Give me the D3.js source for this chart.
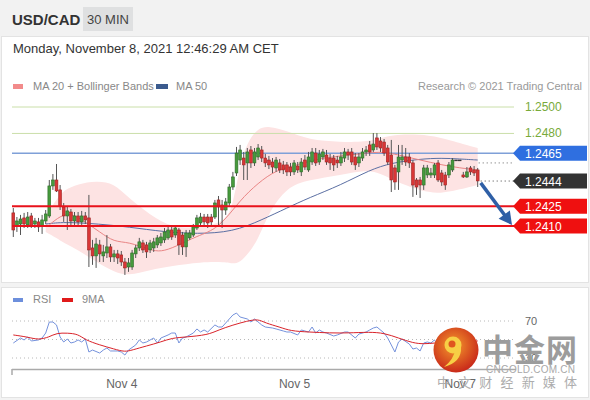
<!DOCTYPE html>
<html>
<head>
<meta charset="utf-8">
<script src="https://cdn.jsdelivr.net/npm/d3@7"></script>
<style>
  html, body { margin: 0; padding: 0; background: #f3f3f3; }
  svg { display: block; font-family: "Liberation Sans", Arial, sans-serif; }
</style>
</head>
<body>
<div id="chart"></div>
<script>
// USD/CAD 30 min candles, index 0..129
var openPrices = [
  1.24199, 1.24100, 1.24115, 1.24161, 1.24108, 1.24176, 1.24115, 1.24131, 1.24100, 1.24138,
  1.24176, 1.24403, 1.24448, 1.24373, 1.24244, 1.24176, 1.24206, 1.24138, 1.24176, 1.24131,
  1.24176, 1.24161, 1.23934, 1.23874, 1.23957, 1.23874, 1.23896, 1.23942, 1.23866, 1.23889,
  1.23881, 1.23828, 1.23790, 1.23790, 1.23889, 1.23934, 1.23972, 1.23957, 1.23919, 1.23934,
  1.23957, 1.23972, 1.23995, 1.24010, 1.24070, 1.24032, 1.24070, 1.24032, 1.23942, 1.24010,
  1.24032, 1.24085, 1.24123, 1.24168, 1.24168, 1.24168, 1.24168, 1.24297, 1.24259, 1.24221,
  1.24274, 1.24395, 1.24501, 1.24599, 1.24614, 1.24577, 1.24675, 1.24577, 1.24622, 1.24675,
  1.24614, 1.24599, 1.24584, 1.24539, 1.24577, 1.24562, 1.24562, 1.24546, 1.24509, 1.24554,
  1.24509, 1.24599, 1.24524, 1.24584, 1.24652, 1.24584, 1.24622, 1.24637, 1.24614, 1.24614,
  1.24599, 1.24577, 1.24614, 1.24660, 1.24660, 1.24622, 1.24577, 1.24614, 1.24660, 1.24713,
  1.24675, 1.24766, 1.24743, 1.24735, 1.24690, 1.24637, 1.24539, 1.24509, 1.24599, 1.24622,
  1.24622, 1.24577, 1.24448, 1.24448, 1.24410, 1.24486, 1.24486, 1.24486, 1.24577, 1.24501,
  1.24486, 1.24486, 1.24524, 1.24599, 1.24599, 1.24486, 1.24471, 1.24539, 1.24524, 1.24524
];
var closePrices = [
  1.24070, 1.24138, 1.24153, 1.24115, 1.24168, 1.24100, 1.24138, 1.24093, 1.24146, 1.24191,
  1.24403, 1.24448, 1.24365, 1.24252, 1.24176, 1.24214, 1.24138, 1.24176, 1.24131, 1.24176,
  1.24146, 1.23919, 1.23874, 1.23964, 1.23889, 1.23904, 1.23942, 1.23866, 1.23889, 1.23858,
  1.23828, 1.23783, 1.23821, 1.23896, 1.23934, 1.23980, 1.23919, 1.23904, 1.23972, 1.23980,
  1.24010, 1.24017, 1.24055, 1.24070, 1.24017, 1.24085, 1.23957, 1.23942, 1.24047, 1.24047,
  1.24093, 1.24161, 1.24168, 1.24131, 1.24123, 1.24131, 1.24274, 1.24244, 1.24221, 1.24282,
  1.24395, 1.24471, 1.24652, 1.24675, 1.24562, 1.24660, 1.24577, 1.24660, 1.24690, 1.24614,
  1.24577, 1.24562, 1.24546, 1.24599, 1.24524, 1.24524, 1.24509, 1.24509, 1.24577, 1.24524,
  1.24584, 1.24546, 1.24622, 1.24660, 1.24577, 1.24645, 1.24660, 1.24584, 1.24577, 1.24562,
  1.24577, 1.24622, 1.24660, 1.24637, 1.24584, 1.24562, 1.24622, 1.24660, 1.24675, 1.24660,
  1.24720, 1.24698, 1.24690, 1.24652, 1.24584, 1.24448, 1.24433, 1.24622, 1.24622, 1.24584,
  1.24577, 1.24410, 1.24395, 1.24410, 1.24539, 1.24539, 1.24501, 1.24562, 1.24448, 1.24433,
  1.24410, 1.24562, 1.24599, 1.24599, 1.24599, 1.24471, 1.24509, 1.24509, 1.24501, 1.24441
];
var highPrices = [
  1.24236, 1.24168, 1.24184, 1.24199, 1.24206, 1.24199, 1.24161, 1.24161, 1.24184, 1.24221,
  1.24448, 1.24493, 1.24569, 1.24410, 1.24274, 1.24244, 1.24229, 1.24206, 1.24206, 1.24214,
  1.24206, 1.24335, 1.23995, 1.24010, 1.23995, 1.23957, 1.24032, 1.23964, 1.23919, 1.23919,
  1.23911, 1.23858, 1.23858, 1.23919, 1.23957, 1.24010, 1.23995, 1.23980, 1.23995, 1.24010,
  1.24032, 1.24047, 1.24085, 1.24093, 1.24093, 1.24100, 1.24085, 1.24055, 1.24070, 1.24070,
  1.24115, 1.24184, 1.24199, 1.24191, 1.24191, 1.24191, 1.24297, 1.24327, 1.24297, 1.24312,
  1.24418, 1.24509, 1.24698, 1.24713, 1.24660, 1.24690, 1.24705, 1.24690, 1.24720, 1.24705,
  1.24645, 1.24630, 1.24614, 1.24622, 1.24607, 1.24592, 1.24584, 1.24577, 1.24599, 1.24584,
  1.24614, 1.24637, 1.24660, 1.24690, 1.24690, 1.24675, 1.24683, 1.24675, 1.24645, 1.24637,
  1.24630, 1.24660, 1.24690, 1.24683, 1.24690, 1.24652, 1.24652, 1.24690, 1.24705, 1.24743,
  1.24803, 1.24803, 1.24773, 1.24758, 1.24713, 1.24751, 1.24562, 1.24713, 1.24713, 1.24690,
  1.24652, 1.24599, 1.24463, 1.24471, 1.24562, 1.24562, 1.24539, 1.24577, 1.24599, 1.24524,
  1.24509, 1.24584, 1.24614, 1.24599, 1.24599, 1.24509, 1.24546, 1.24554, 1.24554, 1.24539
];
var lowPrices = [
  1.24017, 1.24055, 1.24032, 1.24085, 1.24085, 1.24085, 1.24085, 1.24055, 1.24040, 1.24115,
  1.24161, 1.24373, 1.24357, 1.24221, 1.24131, 1.24070, 1.24100, 1.24108, 1.24100, 1.24108,
  1.24115, 1.23790, 1.23806, 1.23783, 1.23828, 1.23828, 1.23858, 1.23828, 1.23828, 1.23813,
  1.23798, 1.23730, 1.23753, 1.23768, 1.23858, 1.23911, 1.23896, 1.23858, 1.23896, 1.23904,
  1.23934, 1.23949, 1.23972, 1.23995, 1.23995, 1.24010, 1.23881, 1.23881, 1.23866, 1.23995,
  1.24017, 1.24070, 1.24100, 1.24108, 1.24085, 1.24100, 1.24153, 1.24093, 1.24085, 1.24184,
  1.24252, 1.24373, 1.24478, 1.24562, 1.24448, 1.24448, 1.24539, 1.24554, 1.24599, 1.24584,
  1.24546, 1.24531, 1.24501, 1.24509, 1.24501, 1.24493, 1.24478, 1.24478, 1.24486, 1.24501,
  1.24478, 1.24524, 1.24509, 1.24562, 1.24554, 1.24562, 1.24599, 1.24562, 1.24524, 1.24516,
  1.24539, 1.24554, 1.24584, 1.24599, 1.24562, 1.24524, 1.24546, 1.24592, 1.24630, 1.24630,
  1.24660, 1.24675, 1.24660, 1.24630, 1.24562, 1.24357, 1.24373, 1.24373, 1.24562, 1.24554,
  1.24539, 1.24320, 1.24335, 1.24312, 1.24373, 1.24463, 1.24463, 1.24463, 1.24433, 1.24403,
  1.24373, 1.24463, 1.24509, 1.24599, 1.24599, 1.24463, 1.24463, 1.24486, 1.24478, 1.24395
];

// moving averages: [candle index, price]
var ma20Points = [
  [10, 1.24108], [13, 1.24176], [16, 1.24199], [20, 1.24131], [24, 1.24055], [28, 1.23979],
  [32, 1.23980], [38, 1.23919], [41, 1.23904], [45, 1.23942], [51, 1.24025], [57, 1.24078],
  [63, 1.24297], [68, 1.24425], [73, 1.24524], [79, 1.24562], [85, 1.24614], [94, 1.24637],
  [102, 1.24667], [107, 1.24637], [113, 1.24599], [119, 1.24562], [124, 1.24539], [129, 1.24524]
];
var ma50Points = [
  [9, 1.24115], [14, 1.24131], [24, 1.24115], [32, 1.24093], [42, 1.24055], [51, 1.24040],
  [61, 1.24055], [69, 1.24146], [76, 1.24236], [82, 1.24312], [91, 1.24410], [99, 1.24524],
  [105, 1.24577], [113, 1.24607], [119, 1.24614], [124, 1.24607], [129, 1.24599]
];

// bollinger bands: index, upper, lower
var bandIdx   = [9, 12, 14, 18, 23, 28, 32, 38, 44, 52, 59, 61, 63, 65, 68, 71, 76, 82, 91, 98, 102, 107, 116, 121, 129];
var bandUpper = [1.24184, 1.24297, 1.24373, 1.24418, 1.24441, 1.24425, 1.24312, 1.24184, 1.24085, 1.24085, 1.24131, 1.24259,
                 1.24562, 1.24735, 1.24841, 1.24856, 1.24819, 1.24751, 1.24735, 1.24735, 1.24766, 1.24796, 1.24788, 1.24751, 1.24690];
var bandLower = [1.24055, 1.24010, 1.23972, 1.23919, 1.23828, 1.23753, 1.23722, 1.23768, 1.23798, 1.23828, 1.23828, 1.23813,
                 1.23828, 1.23881, 1.23995, 1.24206, 1.24395, 1.24448, 1.24486, 1.24524, 1.24501, 1.24425, 1.24342, 1.24357, 1.24410];

// key levels
var levelValues = [1.2500, 1.2480, 1.2465, 1.2444, 1.2425, 1.2410];
var levelKinds  = ["resistance", "resistance", "pivot", "last", "support", "support"];
var markerValue = 1.24577; // dotted marker after last candle

// RSI(14) and its 9MA: [candle index, value]
var rsiPoints = [
  [0, 46.2], [2, 51.6], [3, 49.5], [4, 52.7], [5, 48.4], [7, 49.5], [8, 51.6], [9, 57], [10, 68.9], [11, 68.9],
  [12, 65.7], [13, 52.7], [14, 47.3], [15, 50.5], [16, 46.2], [17, 47.3], [18, 49.5], [19, 47.3], [20, 50.5],
  [21, 36.5], [22, 38.6], [24, 35.4], [25, 38.6], [26, 40.8], [27, 37.6], [29, 37.6], [30, 36.5], [31, 33.2],
  [32, 38.6], [34, 44.1], [35, 49.5], [36, 46.2], [37, 47.3], [39, 51.6], [40, 46.2], [41, 51.6], [43, 54.9],
  [44, 57], [45, 57], [46, 46.2], [47, 51.6], [48, 52.7], [50, 57], [51, 61.4], [52, 58.1], [53, 60.3],
  [54, 58.1], [56, 65.7], [57, 63.5], [58, 63.5], [60, 72.2], [61, 76.5], [62, 78.6], [63, 74.3], [65, 72.2],
  [66, 68.9], [67, 72.2], [69, 65.7], [70, 63.5], [72, 62.4], [73, 61.4], [75, 59.2], [76, 58.1], [77, 58.1],
  [79, 54.9], [80, 60.3], [82, 58.1], [83, 63.5], [84, 57], [85, 60.3], [86, 58.1], [87, 57], [89, 53.8],
  [90, 54.9], [92, 58.1], [93, 58.1], [95, 51.6], [96, 55.9], [98, 58.1], [99, 60.3], [100, 62.4], [101, 63.5],
  [103, 57], [104, 51.6], [105, 44.1], [106, 36.5], [107, 47.3], [108, 50.5], [110, 45.1], [111, 39.7],
  [112, 40.8], [113, 37.6], [114, 46.2], [115, 47.3], [116, 46.2], [117, 49.5], [118, 43], [119, 44.1],
  [120, 43], [121, 51.6], [122, 53.8], [124, 53.8], [125, 51.6], [126, 52.7], [127, 50.5], [128, 49.5], [129, 43]
];
var rsiMaPoints = [
  [0, 54.9], [4, 52.7], [7, 49.5], [10, 52.7], [12, 57], [15, 57], [18, 55.9], [20, 49.5], [24, 44.1],
  [28, 39.7], [31, 36.5], [33, 38.6], [37, 43], [41, 47.3], [44, 51.6], [48, 52.7], [54, 54.9], [57, 60.3],
  [61, 65.7], [65, 70], [68, 72.2], [70, 67.8], [74, 63.5], [77, 59.2], [82, 58.1], [88, 57], [93, 57],
  [99, 58.1], [103, 57], [107, 51.6], [111, 46.2], [114, 45.1], [117, 46.2], [121, 47.3], [129, 48.4]
];
var rsiGuides = [70, 50, 30];

// date ticks
var tickIdx = [30, 78, 124];
var tickLabels = ["Nov 4", "Nov 5", "Nov 7"];

var width = 590, height = 400;

var svg = d3.select("#chart")
  .append("svg")
  .attr("width", width)
  .attr("height", height);

// page frame
svg.append("rect").attr("x", 0).attr("y", 0).attr("width", width).attr("height", 36).attr("fill", "#f2f2f2");
svg.append("rect").attr("x", 1.5).attr("y", 36.5).attr("width", 587).attr("height", 246)
  .attr("fill", "#fff").attr("stroke", "#e3e3e3");
svg.append("rect").attr("x", 1.5).attr("y", 287.5).attr("width", 587).attr("height", 110)
  .attr("fill", "#fff").attr("stroke", "#e3e3e3");

// header
svg.append("text").attr("x", 12).attr("y", 25)
  .style("font-size", "15px").style("font-weight", "bold").attr("fill", "#333").text("USD/CAD");
svg.append("rect").attr("x", 83).attr("y", 7).attr("width", 50).attr("height", 24).attr("fill", "#dfe0e1");
svg.append("text").attr("x", 108).attr("y", 24).attr("text-anchor", "middle")
  .style("font-size", "13px").attr("fill", "#444").text("30 MIN");
svg.append("text").attr("x", 13).attr("y", 53)
  .style("font-size", "13px").attr("fill", "#333").text("Monday, November 8, 2021 12:46:29 AM CET");

// legend
svg.append("rect").attr("x", 13).attr("y", 84).attr("width", 10).attr("height", 5).attr("fill", "#f28b8b");
svg.append("text").attr("x", 33).attr("y", 90).style("font-size", "11px").attr("fill", "#888").text("MA 20 + Bollinger Bands");
svg.append("rect").attr("x", 156).attr("y", 84).attr("width", 12).attr("height", 5).attr("fill", "#3b5b8e");
svg.append("text").attr("x", 176).attr("y", 90).style("font-size", "11px").attr("fill", "#888").text("MA 50");
svg.append("text").attr("x", 582).attr("y", 90).attr("text-anchor", "end")
  .style("font-size", "11px").attr("fill", "#999").text("Research \u00a9 2021 Trading Central");

// scales
var x = d3.scaleLinear().domain([0, 129]).range([13.3, 477.7]);
var y = d3.scaleLinear().domain([1.2410, 1.2500]).range([226, 107]);
var yRsi = d3.scaleLinear().domain([30, 70]).range([358, 321]);

var candles = openPrices.map(function (o, i) {
  return { i: i, o: o, h: highPrices[i], l: lowPrices[i], c: closePrices[i] };
});
var band = bandIdx.map(function (d, k) {
  return { i: d, up: bandUpper[k], lo: bandLower[k] };
});

// bollinger band
svg.append("path")
  .datum(band)
  .attr("fill", "#fde3e3")
  .attr("d", d3.area()
    .x(function (d) { return x(d.i); })
    .y0(function (d) { return y(d.lo); })
    .y1(function (d) { return y(d.up); })
    .curve(d3.curveBasis));

var lineLeft = 12, lineRight = 514;

var levels = levelValues.map(function (v, k) { return { v: v, kind: levelKinds[k] }; });

// resistance + pivot lines below the candles
svg.selectAll(".lvl-back")
  .data(levels.filter(function (d) { return d.kind == "resistance" || d.kind == "pivot"; }))
  .enter()
  .append("line")
  .attr("x1", lineLeft).attr("x2", lineRight)
  .attr("y1", function (d) { return y(d.v); })
  .attr("y2", function (d) { return y(d.v); })
  .attr("stroke", function (d) { return d.kind == "pivot" ? "#7fa0d8" : "#cadfa9"; })
  .attr("stroke-width", function (d) { return d.kind == "pivot" ? 1.6 : 1; });

// moving averages
var priceLine = d3.line()
  .x(function (d) { return x(d[0]); })
  .y(function (d) { return y(d[1]); })
  .curve(d3.curveBasis);

svg.append("path").datum(ma50Points).attr("fill", "none")
  .attr("stroke", "#5b6fa3").attr("stroke-width", 1).attr("d", priceLine);
svg.append("path").datum(ma20Points).attr("fill", "none")
  .attr("stroke", "#e98585").attr("stroke-width", 1).attr("d", priceLine);

// candles
var bodyW = 2.8;
var cg = svg.selectAll(".candle")
  .data(candles)
  .enter()
  .append("g")
  .attr("class", "candle");

cg.append("line")
  .attr("x1", function (d) { return x(d.i); })
  .attr("x2", function (d) { return x(d.i); })
  .attr("y1", function (d) { return y(d.h); })
  .attr("y2", function (d) { return y(d.l); })
  .attr("stroke", "#555")
  .attr("stroke-width", 1);

cg.append("rect")
  .attr("x", function (d) { return x(d.i) - bodyW / 2; })
  .attr("width", bodyW)
  .attr("y", function (d) { return y(Math.max(d.o, d.c)); })
  .attr("height", function (d) { return Math.max(0.8, Math.abs(y(d.o) - y(d.c))); })
  .attr("fill", function (d) { return d.c > d.o ? "#469a3c" : (d.c < d.o ? "#d93636" : "#333"); })
  .attr("stroke", function (d) { return d.c > d.o ? "#2c6b27" : (d.c < d.o ? "#9e2222" : "#333"); })
  .attr("stroke-width", 0.6);

// support lines on top
svg.selectAll(".lvl-front")
  .data(levels.filter(function (d) { return d.kind == "support"; }))
  .enter()
  .append("line")
  .attr("x1", lineLeft).attr("x2", lineRight)
  .attr("y1", function (d) { return y(d.v); })
  .attr("y2", function (d) { return y(d.v); })
  .attr("stroke", "#e8121b")
  .attr("stroke-width", 2);

// dotted markers after the last candle
svg.append("line")
  .attr("x1", x(129) + 3).attr("x2", lineRight)
  .attr("y1", y(levelValues[3])).attr("y2", y(levelValues[3]))
  .attr("stroke", "#444").attr("stroke-dasharray", "1,3");
svg.append("line")
  .attr("x1", x(129) + 1).attr("x2", lineRight)
  .attr("y1", y(markerValue)).attr("y2", y(markerValue))
  .attr("stroke", "#666").attr("stroke-dasharray", "1,3");

// level labels
var tagColor = { pivot: "#2f6fe0", last: "#333333", support: "#ef1010" };
levels.forEach(function (d) {
  var yc = y(d.v);
  if (d.kind == "resistance") {
    svg.append("text").attr("x", 525).attr("y", yc + 4)
      .style("font-size", "12px").attr("fill", "#78aa3a").text(d3.format(".4f")(d.v));
    return;
  }
  svg.append("path")
    .attr("d", "M513," + yc + "L520," + (yc - 7.5) + "L587," + (yc - 7.5) + "L587," + (yc + 7.5) + "L520," + (yc + 7.5) + "Z")
    .attr("fill", tagColor[d.kind]);
  svg.append("text").attr("x", 525).attr("y", yc + 4.5)
    .style("font-size", "12px").attr("fill", "#fff").text(d3.format(".4f")(d.v));
});

// forecast arrow
var ax1 = x(129) + 3, ay1 = y(closePrices[129]) + 2;
var ax2 = 512, ay2 = y(levelValues[5]) - 1;
var dx = ax2 - ax1, dy = ay2 - ay1, len = Math.sqrt(dx * dx + dy * dy);
var ux = dx / len, uy = dy / len;
svg.append("line")
  .attr("x1", ax1).attr("y1", ay1)
  .attr("x2", ax2 - ux * 9).attr("y2", ay2 - uy * 9)
  .attr("stroke", "#2e5fa6").attr("stroke-width", 3.5);
svg.append("path")
  .attr("d", "M" + ax2 + "," + ay2 +
    "L" + (ax2 - ux * 13 - uy * 7) + "," + (ay2 - uy * 13 + ux * 7) +
    "L" + (ax2 - ux * 13 + uy * 7) + "," + (ay2 - uy * 13 - ux * 7) + "Z")
  .attr("fill", "#2e5fa6");

// ---- RSI panel ----
svg.append("rect").attr("x", 13).attr("y", 298).attr("width", 10).attr("height", 4).attr("fill", "#6d8fdc");
svg.append("text").attr("x", 33).attr("y", 303).style("font-size", "11px").attr("fill", "#888").text("RSI");
svg.append("rect").attr("x", 62).attr("y", 298).attr("width", 11).attr("height", 4).attr("fill", "#e01b1b");
svg.append("text").attr("x", 82).attr("y", 303).style("font-size", "11px").attr("fill", "#888").text("9MA");

svg.selectAll(".guide")
  .data(rsiGuides)
  .enter()
  .append("line")
  .attr("x1", lineLeft).attr("x2", 516)
  .attr("y1", function (d) { return yRsi(d); })
  .attr("y2", function (d) { return yRsi(d); })
  .attr("stroke", "#b8b8b8")
  .attr("stroke-dasharray", "1,3");

svg.selectAll(".guide-label")
  .data([70, 30])
  .enter()
  .append("text")
  .attr("x", 525)
  .attr("y", function (d) { return yRsi(d) + 4; })
  .style("font-size", "11px")
  .attr("fill", "#666")
  .text(function (d) { return d; });

var rsiLine = d3.line()
  .x(function (d) { return x(d[0]); })
  .y(function (d) { return yRsi(d[1]); });

svg.append("path").datum(rsiPoints).attr("fill", "none")
  .attr("stroke", "#7592dc").attr("stroke-width", 1).attr("d", rsiLine);
svg.append("path").datum(rsiMaPoints).attr("fill", "none")
  .attr("stroke", "#d9232a").attr("stroke-width", 1)
  .attr("d", rsiLine.curve(d3.curveBasis));

// date axis
svg.append("line").attr("x1", 12).attr("x2", 516).attr("y1", 369.5).attr("y2", 369.5)
  .attr("stroke", "#aaa").attr("stroke-width", 1.5);
svg.append("line").attr("x1", 12).attr("x2", 12).attr("y1", 369).attr("y2", 375)
  .attr("stroke", "#aaa").attr("stroke-width", 1.5);

var axis = svg.append("g")
  .attr("transform", "translate(0,370)")
  .call(d3.axisBottom(x)
    .tickValues(tickIdx)
    .tickFormat(function (d, k) { return tickLabels[k]; })
    .tickSize(0)
    .tickPadding(9));
axis.select(".domain").remove();
axis.selectAll("text")
  .style("font-size", "12px")
  .style("font-family", "Liberation Sans, Arial, sans-serif")
  .attr("fill", "#666");

// watermark
var defs = svg.append("defs");
var grad = defs.append("radialGradient").attr("id", "logoGrad").attr("cx", "45%").attr("cy", "40%").attr("r", "60%");
grad.append("stop").attr("offset", "0%").attr("stop-color", "#f59a2c");
grad.append("stop").attr("offset", "100%").attr("stop-color", "#c92a1a");

var wm = svg.append("g");
wm.append("circle").attr("cx", 456).attr("cy", 350).attr("r", 22.5).attr("fill", "url(#logoGrad)");
wm.append("circle").attr("cx", 453).attr("cy", 345).attr("r", 8.5).attr("fill", "#f7cf45");
wm.append("circle").attr("cx", 452).attr("cy", 344).attr("r", 3.5).attr("fill", "#e0551f");
wm.append("path")
  .attr("d", "M461,347 Q462,362 444,367 Q454,359 455,350 Z")
  .attr("fill", "#f7cf45");
wm.append("text").attr("x", 482).attr("y", 361)
  .attr("textLength", 95)
  .style("font-family", "Noto Sans CJK SC").style("font-size", "31px").style("font-weight", "bold")
  .attr("fill", "#9c9c9c").text("中金网");
wm.append("text").attr("x", 486).attr("y", 373)
  .attr("textLength", 89)
  .style("font-size", "10px").attr("fill", "#a8a8a8").text("CNGOLD.COM.CN");
wm.append("text").attr("x", 437).attr("y", 387)
  .attr("textLength", 140)
  .style("font-family", "Noto Sans CJK SC").style("font-size", "13px")
  .attr("fill", "#a5a5a5").attr("opacity", 0.9).text("中文财经新媒体");
</script>
</body>
</html>
